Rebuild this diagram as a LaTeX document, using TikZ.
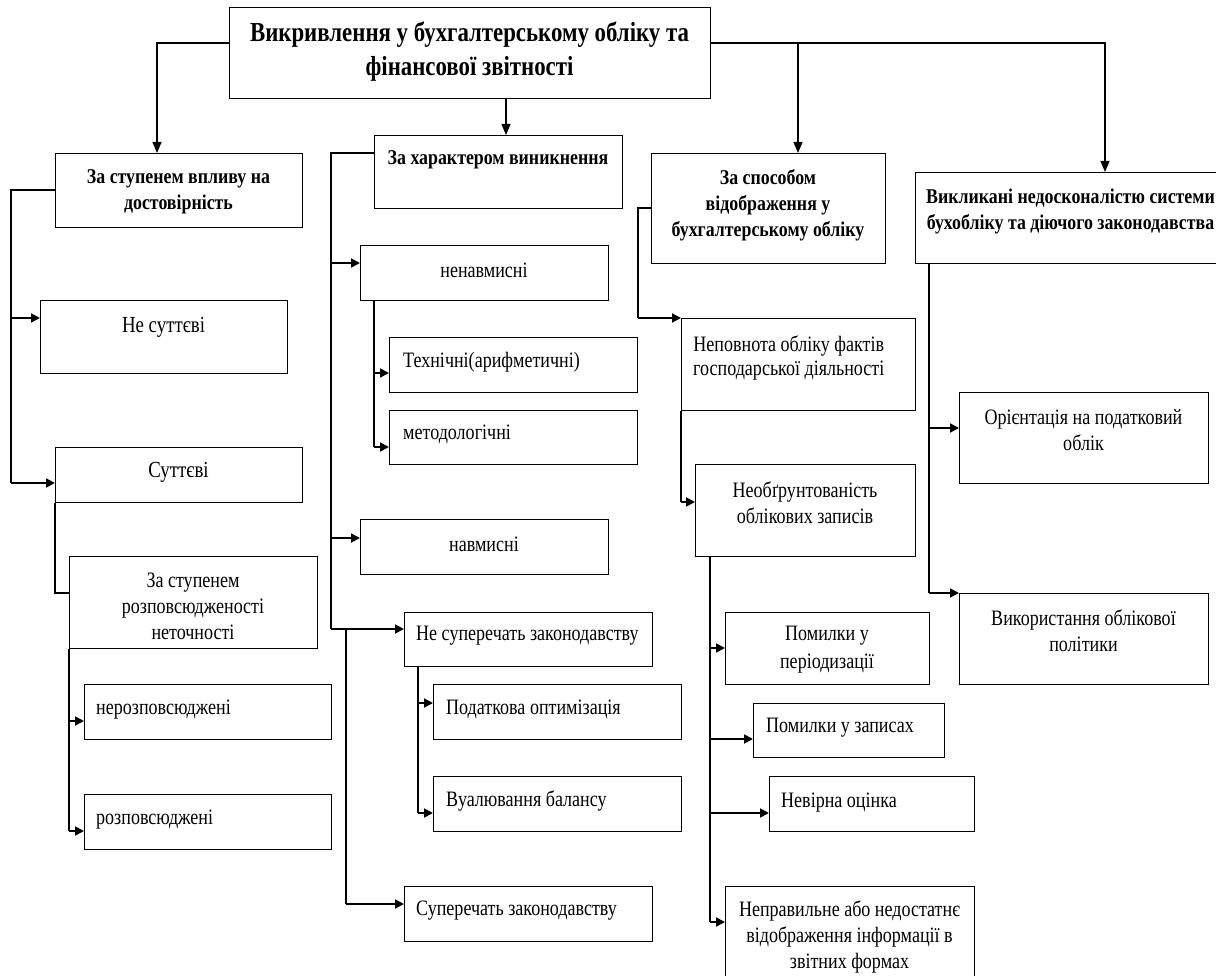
\documentclass[tikz,border=0pt]{standalone}
\usepackage{fontspec}
\setmainfont{Liberation Serif}[FakeStretch=0.85]
\newfontfamily\narrowserif{Liberation Serif}[FakeStretch=0.82]
\newfontfamily\titleserif{Liberation Serif}[FakeStretch=0.83]
\usetikzlibrary{arrows.meta}
\tikzset{
  box/.style={draw, line width=1.2pt, fill=white, inner sep=0pt, anchor=north west},
  ttl/.style={font=\titleserif\bfseries\fontsize{27.5}{34}\selectfont, align=center, inner sep=0pt, yshift=-2pt},
  hdr/.style={font=\bfseries\fontsize{21}{26}\selectfont, align=center, inner sep=0pt, yshift=-2pt},
  txt/.style={font=\narrowserif\fontsize{22}{26}\selectfont, align=center, inner sep=0pt, yshift=-2.5pt},
  big/.style={font=\narrowserif\fontsize{23}{26}\selectfont, align=center, inner sep=0pt, yshift=-2.5pt},
  trunk/.style={line width=1.2pt},
  harr/.style={line width=1.8pt, -{Triangle[length=9pt,width=9pt]}},
  varr/.style={line width=1.2pt, -{Triangle[length=11pt,width=9pt]}},
}
% a framed box given by its corners (x1,y1) and (x2,y2), y growing downwards
\newcommand\cbox[5]{\node[box, minimum width={(#4)-(#2)}, minimum height={(#5)-(#3)}] (#1) at (#2,#3) {};}

\begin{document}
\begin{tikzpicture}[x=1pt, y=-1pt]
\useasboundingbox (0,0) rectangle (1216,976);
\clip (0,0) rectangle (1216,976);

% ---- root ----
\cbox{M}{229}{7}{710}{98}
\node[ttl] (M-t) at (469.5,50) {Викривлення у бухгалтерському обліку та\\фінансової звітності};

% ---- classification headers ----
\cbox{VP}{55}{153}{302}{227}
\node[hdr] (VP-t) at (178.5,189.5) {За ступенем впливу на\\достовірність};
\cbox{CH}{374}{135}{622}{208}
\node[hdr] (CH-t) at (498,158) {За характером виникнення};
\cbox{SP}{651}{153}{885}{263}
\node[hdr] (SP-t) at (768,203) {За способом\\відображення у\\бухгалтерському обліку};
\cbox{VK}{915}{172}{1240}{263}
\node[hdr, anchor=west] (VK-t) at (926,209.5) {Викликані недосконалістю системи\\бухобліку та діючого законодавства};

% ---- by degree of influence ----
\cbox{NS}{40}{300}{287}{373}
\node[big] (NS-t) at (163.5,325) {Не суттєві};
\cbox{ST}{55}{447}{302}{502}
\node[big] (ST-t) at (178.5,470) {Суттєві};
\cbox{RZ}{69}{556}{317}{648}
\node[txt] (RZ-t) at (193,604) {За ступенем\\розповсюдженості\\неточності};
\cbox{NR}{84}{684}{331}{739}
\node[txt, anchor=west] (NR-t) at (96,707) {нерозповсюджені};
\cbox{RS}{84}{794}{331}{849}
\node[txt, anchor=west] (RS-t) at (96,817) {розповсюджені};

% ---- by nature of origin ----
\cbox{NN}{360}{245}{608}{300}
\node[txt] (NN-t) at (484,268) {ненавмисні};
\cbox{TE}{389}{337}{637}{392}
\node[txt, anchor=west] (TE-t) at (403,360) {Технічні(арифметичні)};
\cbox{ME}{389}{410}{637}{464}
\node[txt, anchor=west] (ME-t) at (403,432) {методологічні};
\cbox{NV}{360}{519}{608}{574}
\node[txt] (NV-t) at (484,542) {навмисні};
\cbox{NZ}{404}{612}{652}{666}
\node[txt, anchor=west] (NZ-t) at (416,633) {Не суперечать законодавству};
\cbox{PO}{433}{684}{681}{739}
\node[txt, anchor=west] (PO-t) at (446,707) {Податкова оптимізація};
\cbox{VB}{433}{776}{681}{831}
\node[txt, anchor=west] (VB-t) at (446,798) {Вуалювання балансу};
\cbox{SZ}{404}{886}{652}{941}
\node[txt, anchor=west] (SZ-t) at (416,908) {Суперечать законодавству};

% ---- by way of recording ----
\cbox{NP}{681}{318}{915}{410}
\node[txt, font=\narrowserif\fontsize{22}{24}\selectfont, anchor=west] (NP-t) at (693,355) {Неповнота обліку фактів\\господарської діяльності};
\cbox{NO}{695}{464}{915}{556}
\node[txt] (NO-t) at (805,500.5) {Необґрунтованість\\облікових записів};
\cbox{PP}{725}{612}{929}{684}
\node[txt, font=\narrowserif\fontsize{22}{28}\selectfont] (PP-t) at (827,647) {Помилки у\\періодизації};
\cbox{PZ}{753}{703}{944}{757}
\node[txt, anchor=west] (PZ-t) at (766,725) {Помилки у записах};
\cbox{NC}{769}{776}{974}{831}
\node[txt, anchor=west] (NC-t) at (781,800) {Невірна оцінка};
\cbox{NI}{725}{886}{974}{1000}
\node[txt] (NI-t) at (849.5,934) {Неправильне або недостатнє\\відображення інформації в\\звітних формах};

% ---- caused by the system's imperfection ----
\cbox{OR}{959}{392}{1208}{483}
\node[txt] (OR-t) at (1083.5,427.5) {Орієнтація на податковий\\облік};
\cbox{VO}{959}{593}{1208}{684}
\node[txt] (VO-t) at (1083.5,628.5) {Використання облікової\\політики};

% ---- connectors from the root ----
\coordinate (mL) at (157,43);
\coordinate (mD) at (506,0);
\coordinate (mS) at (798,43);
\coordinate (mR) at (1105,43);
\draw[varr] (M.west |- mL) -- (mL) -- (VP.north -| mL);
\draw[varr] (M.south -| mD) -- (CH.north -| mD);
\draw[varr] (M.east |- mR) -- (mR) -- (VK.north -| mR);
\draw[varr] (mS) -- (SP.north -| mS);

% ---- left column ----
\coordinate (a1) at (11,190);
\coordinate (a2) at (11,318);
\coordinate (a3) at (11,483);
\draw[trunk] (VP.west |- a1) -- (a1) -- (a3);
\draw[harr] (a2) -- (NS.west |- a2);
\draw[harr] (a3) -- (ST.west |- a3);
\coordinate (b1) at (55,593);
\draw[trunk] (ST.south west) -- (b1) -- (RZ.west |- b1);
\coordinate (c1) at (69,721);
\coordinate (c2) at (69,831);
\draw[trunk] (RZ.south west) -- (c2);
\draw[harr] (c1) -- (NR.west |- c1);
\draw[harr] (c2) -- (RS.west |- c2);

% ---- middle column ----
\coordinate (d0) at (331,153);
\coordinate (d1) at (331,263);
\coordinate (d2) at (331,538);
\coordinate (d3) at (331,629);
\draw[trunk] (CH.west |- d0) -- (d0) -- (d3);
\draw[harr] (d1) -- (NN.west |- d1);
\draw[harr] (d2) -- (NV.west |- d2);
\draw[harr] (d3) -- (NZ.west |- d3);
\coordinate (e1) at (374,373);
\coordinate (e2) at (374,447);
\draw[trunk] (NN.south -| e1) -- (e2);
\draw[harr] (e1) -- (TE.west |- e1);
\draw[harr] (e2) -- (ME.west |- e2);
\coordinate (f0) at (346,629);
\coordinate (f1) at (346,904);
\draw[trunk] (f0) -- (f1);
\draw[harr] (f1) -- (SZ.west |- f1);
\coordinate (g1) at (418,703);
\coordinate (g2) at (418,813);
\draw[trunk] (NZ.south -| g1) -- (g2);
\draw[harr] (g1) -- (PO.west |- g1);
\draw[harr] (g2) -- (VB.west |- g2);

% ---- third column ----
\coordinate (h0) at (638,208);
\coordinate (h1) at (638,318);
\draw[trunk] (SP.west |- h0) -- (h0) -- (h1);
\draw[harr] (h1) -- (NP.west |- h1);
\coordinate (i1) at (681,502);
\draw[trunk] (NP.south west) -- (i1);
\draw[harr] (i1) -- (NO.west |- i1);
\coordinate (j1) at (710,648);
\coordinate (j2) at (710,739);
\coordinate (j3) at (710,813);
\coordinate (j4) at (710,922);
\draw[trunk] (NO.south -| j1) -- (j4);
\draw[harr] (j1) -- (PP.west |- j1);
\draw[harr] (j2) -- (PZ.west |- j2);
\draw[harr] (j3) -- (NC.west |- j3);
\draw[harr] (j4) -- (NI.west |- j4);

% ---- right column ----
\coordinate (k1) at (929,428);
\coordinate (k2) at (929,593);
\draw[trunk] (VK.south -| k1) -- (k2);
\draw[harr] (k1) -- (OR.west |- k1);
\draw[harr] (k2) -- (VO.west |- k2);
\end{tikzpicture}
\end{document}
